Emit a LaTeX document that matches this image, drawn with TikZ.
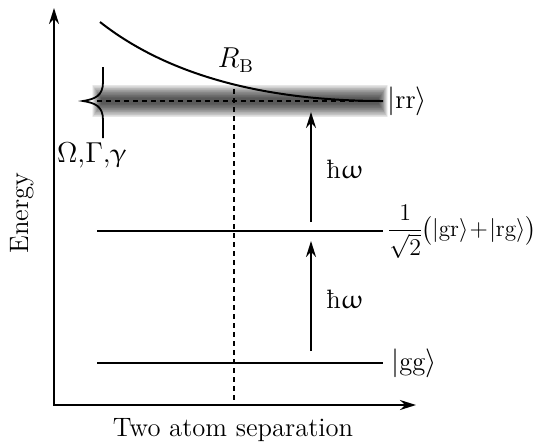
\documentclass[tikz,border=0pt]{standalone}
\usepackage{fontspec}
\usepackage{amsmath}
\usepackage{upgreek}
\usetikzlibrary{arrows.meta}

\begin{document}
\begin{tikzpicture}[x=0.5pt, y=-0.5pt,
  font=\fontsize{13.3}{16}\selectfont, >={Stealth[length=8pt, width=5pt]},
  axis/.style={<->, line width=1pt},
  level/.style={line width=1pt},
  trans/.style={->, line width=1pt},
  guide/.style={line width=0.9pt, dash pattern=on 2.5pt off 2pt},
  lab/.style={anchor=west, inner sep=1pt}]
\useasboundingbox (0,0) rectangle (534,446);
% axes
\coordinate (ytop) at (54,8);
\coordinate (xend) at (416,405);
\draw[axis] (ytop) |- (xend);
\node[rotate=90] (energy) at (22,213) {Energy};
\node (sep) at (233,430) {Two atom separation};
% blurred Rydberg level
\foreach \k in {1,...,20}
  \fill[black, opacity=0.05] ({92+0.45*\k},{101-17+0.7*\k}) rectangle ({388-0.45*\k},{101+17-0.7*\k});
% levels
\coordinate (rr-l) at (97,101);  \coordinate (rr-r) at (383,101);
\coordinate (sym-l) at (97,231); \coordinate (sym-r) at (383,231);
\coordinate (gg-l) at (97,363);  \coordinate (gg-r) at (383,363);
\draw[guide] (rr-l) -- (rr-r);
\draw[level] (sym-l) -- (sym-r);
\draw[level] (gg-l) -- (gg-r);
\node[lab] (rr) at (385,101) {$|\mathrm{rr}\rangle$};
\node[lab, inner sep=0pt, font=\fontsize{11.6}{14}\selectfont] (sym) at (389,232)
  {$\nulldelimiterspace=0pt\dfrac{1}{\sqrt{2}}\bigl(|\mathrm{gr}\rangle\!+\!|\mathrm{rg}\rangle\bigr)$};
\node[lab] (gg) at (389,363) {$|\mathrm{gg}\rangle$};
% shifted pair potential and blockade radius
\draw[level] (100,22) .. controls (180,85) and (290,101) .. (rr-r);
\coordinate (rb-top) at (234,89);
\coordinate (rb-bot) at (234,405);
\draw[guide] (rb-top) -- (rb-bot);
\node (rb) at (236,60) {$R_{\mathrm{B}}$};
% linewidth brace
\draw[line width=0.9pt] (103,67) -- (103,82) .. controls (103,96) and (95,99) .. (83,101)
  .. controls (95,103) and (103,106) .. (103,120) -- (103,138);
\node (width) at (92,155) {$\Omega{,}\Gamma{,}\upgamma$};
% two photon steps
\coordinate (a1s) at (311,222); \coordinate (a1e) at (311,112);
\coordinate (a2s) at (311,351); \coordinate (a2e) at (311,241);
\draw[trans] (a1s) -- (a1e);
\draw[trans] (a2s) -- (a2e);
\node[lab] (w1) at (324,169) {ħ$\upomega$};
\node[lab] (w2) at (324,299) {ħ$\upomega$};
\end{tikzpicture}
\end{document}
